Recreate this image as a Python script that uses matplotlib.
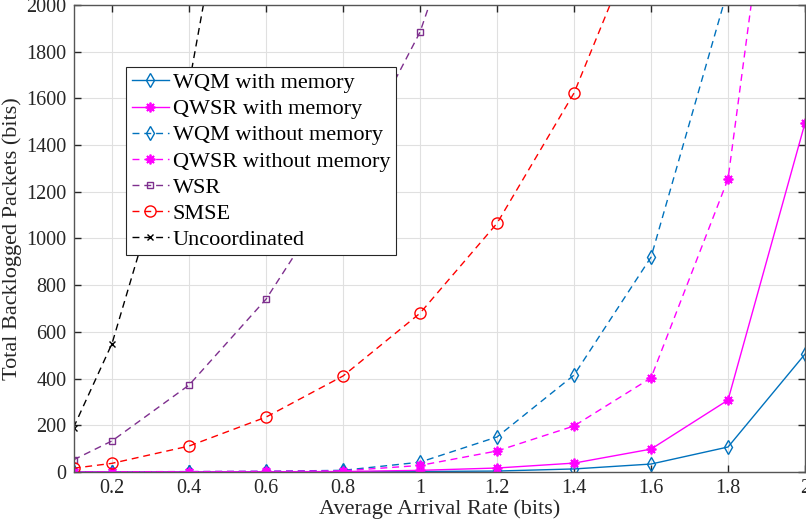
import matplotlib
matplotlib.use("Agg")
import matplotlib.pyplot as plt
from matplotlib.ticker import FuncFormatter

plt.rcParams['font.family'] = ['Liberation Serif', 'DejaVu Serif']

# datos
x = [0.1, 0.2, 0.4, 0.6, 0.8, 1.0, 1.2, 1.4, 1.6, 1.8, 2.0]

wqm_mem = [0, 0, 0, 0.5, 1, 2, 4, 13, 34, 107, 505]
qwsr_mem = [0, 0, 0.5, 1, 2, 7, 17, 38, 98, 308, 1495]
wqm_nomem = [0.5, 1, 1.5, 3, 7, 42, 150, 415, 920, 2070, 4200]
qwsr_nomem = [0.5, 1, 1.5, 3, 5, 28, 90, 197, 403, 1255, 3740]
wsr = [52, 133, 372, 740, 1250, 1884, 2850]
smse = [16, 37, 111, 235, 411, 680, 1065, 1623, 2430]
uncoord = [190, 550, 1660, 3480]

azul = '#0072BD'
magenta = '#FF00FF'
morado = '#7E2F8E'
rojo = '#FF0000'

# asterisco tipo MATLAB (8 brazos)
asterisco = (8, 2, 0)

fig = plt.figure(figsize=(8.06, 5.26), dpi=100)
ax = fig.add_axes([0.0912, 0.1027, 0.9076, 0.8878])

guion = (5, 3.5)
ax.plot(x, wqm_mem, color=azul, lw=1, marker='d', ms=7, mfc='none', mew=1,
        label='WQM with memory')
ax.plot(x, qwsr_mem, color=magenta, lw=1, marker=asterisco, ms=7, mew=1.3,
        label='QWSR with memory')
ax.plot(x, wqm_nomem, color=azul, lw=1, ls='--', dashes=guion, marker='d', ms=7,
        mfc='none', mew=1, label='WQM without memory')
ax.plot(x, qwsr_nomem, color=magenta, lw=1, ls='--', dashes=guion, marker=asterisco, ms=7,
        mew=1.3, label='QWSR without memory')
ax.plot(x[:len(wsr)], wsr, color=morado, lw=1, ls='--', dashes=guion, marker='s', ms=5,
        mfc='none', mew=1, label='WSR')
ax.plot(x[:len(smse)], smse, color=rojo, lw=1, ls='--', dashes=guion, marker='o', ms=8,
        mfc='none', mew=1, label='SMSE')
ax.plot(x[:len(uncoord)], uncoord, color='black', lw=1, ls='--', dashes=guion, marker='x',
        ms=5, mew=1, label='Uncoordinated')

ax.set_xlim(0.1, 2)
ax.set_ylim(0, 2000)
ax.set_xticks([0.2, 0.4, 0.6, 0.8, 1.0, 1.2, 1.4, 1.6, 1.8, 2.0])
ax.set_yticks(range(0, 2001, 200))
ax.xaxis.set_major_formatter(FuncFormatter(lambda v, p: f'{v:g}'))

ax.grid(True, color='#e0e0e0', lw=0.8)
ax.set_axisbelow(True)
for s in ax.spines.values():
    s.set_color('#555555')
    s.set_linewidth(1)
ax.tick_params(direction='in', top=True, right=True, length=5, width=1,
               colors='#262626', labelsize=14.5, pad=5)

ax.set_xlabel('Average Arrival Rate (bits)', fontsize=16, color='#262626', labelpad=1)
ax.set_ylabel('Total Backlogged Packets (bits)', fontsize=16, color='#262626', labelpad=3)

ley = ax.legend(loc='upper left', bbox_to_anchor=(0.0718, 0.867), fontsize=16,
                frameon=True, fancybox=False, edgecolor='#262626', framealpha=1,
                handlelength=1.7, handletextpad=0.15, borderpad=0.25,
                labelspacing=0.25, borderaxespad=0)
ley.get_frame().set_linewidth(0.8)

fig.savefig('out.png', dpi=100)
